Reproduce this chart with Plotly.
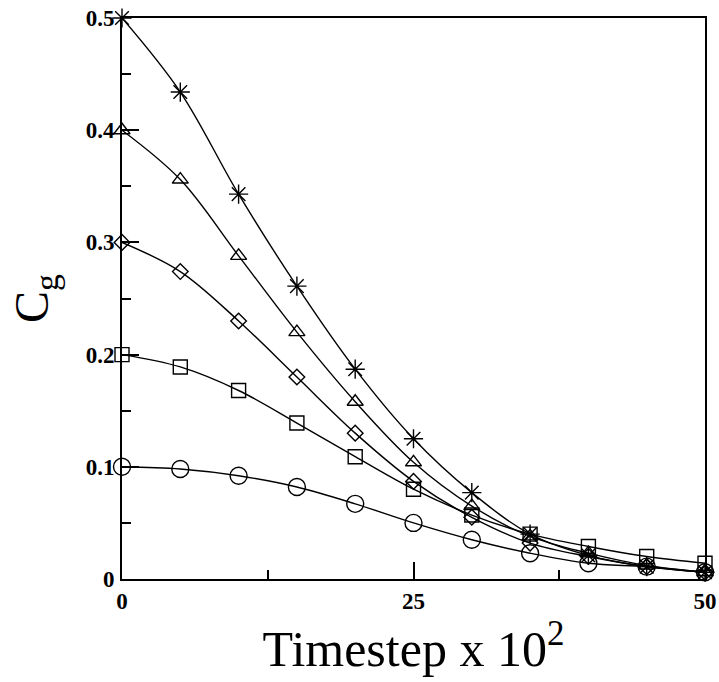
import plotly.graph_objects as go

# Data
timestep = [0, 5, 10, 15, 20, 25, 30, 35, 40, 45, 50]
cg_05 = [0.500, 0.434, 0.343, 0.261, 0.187, 0.125, 0.077, 0.040, 0.021, 0.011, 0.006]
cg_04 = [0.400, 0.356, 0.288, 0.220, 0.158, 0.104, 0.065, 0.038, 0.023, 0.012, 0.006]
cg_03 = [0.300, 0.274, 0.230, 0.180, 0.130, 0.087, 0.055, 0.032, 0.020, 0.011, 0.006]
cg_02 = [0.200, 0.189, 0.168, 0.139, 0.109, 0.080, 0.057, 0.040, 0.029, 0.020, 0.014]
cg_01 = [0.100, 0.098, 0.092, 0.082, 0.067, 0.050, 0.035, 0.023, 0.014, 0.011, 0.006]

series = [
    ("C0=0.5", cg_05, "asterisk-open", 16),
    ("C0=0.4", cg_04, "triangle-up-open", 14),
    ("C0=0.3", cg_03, "diamond-open", 12),
    ("C0=0.2", cg_02, "square-open", 14),
    ("C0=0.1", cg_01, "circle-open", 17),
]

x_tickvals = [0, 25, 50]
x_ticktext = ["0", "25", "50"]
y_tickvals = [0, 0.1, 0.2, 0.3, 0.4, 0.5]
y_ticktext = ["0", "0.1", "0.2", "0.3", "0.4", "0.5"]

fig = go.Figure()
for name, ys, sym, sz in series:
    fig.add_trace(go.Scatter(
        x=timestep, y=ys, name=name, mode="lines+markers",
        line=dict(color="black", width=1.4, shape="spline", smoothing=1.0),
        marker=dict(symbol=sym, size=sz, color="black",
                    line=dict(color="black", width=1.4)),
        cliponaxis=False,
    ))

tickfont = dict(family="Liberation Serif", size=23, color="black", weight="bold")

fig.update_layout(
    width=719, height=682,
    margin=dict(l=122, r=14, t=18, b=103, autoexpand=False),
    paper_bgcolor="white", plot_bgcolor="white",
    showlegend=False,
    font=dict(family="Liberation Serif", color="black"),
    xaxis=dict(
        range=[0, 50], tickmode="array", tickvals=x_tickvals, ticktext=x_ticktext,
        ticks="inside", ticklen=17, tickwidth=1.5, tickcolor="black",
        minor=dict(ticks="inside", ticklen=9, tickwidth=1.5, tickcolor="black",
                   tickmode="array", tickvals=[12.5, 37.5]),
        showline=True, linecolor="black", linewidth=2, mirror=True,
        showgrid=False, zeroline=False, tickfont=tickfont,
        ticklabelstandoff=0,
        title=dict(text="Timestep x 10<sup>2</sup>",
                   font=dict(family="Liberation Serif", size=50, color="black"),
                   standoff=8),
        automargin=False,
    ),
    yaxis=dict(
        range=[0, 0.5], tickmode="array", tickvals=y_tickvals, ticktext=y_ticktext,
        ticks="inside", ticklen=17, tickwidth=1.5, tickcolor="black",
        minor=dict(ticks="inside", ticklen=9, tickwidth=1.5, tickcolor="black",
                   tickmode="array", tickvals=[0.05, 0.15, 0.25, 0.35, 0.45]),
        showline=True, linecolor="black", linewidth=2, mirror=True,
        showgrid=False, zeroline=False, tickfont=tickfont,
        ticklabelstandoff=1,
        title=dict(text="C<sub>g</sub>",
                   font=dict(family="Liberation Serif", size=48, color="black"),
                   standoff=22),
        automargin=False,
    ),
)

fig.write_html("out.html")
